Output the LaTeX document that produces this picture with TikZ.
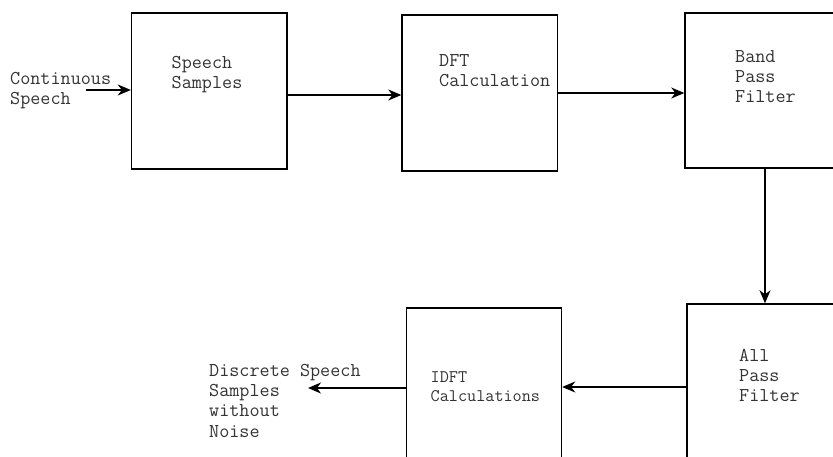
\documentclass[tikz,border=0pt]{standalone}
\usepackage{fontspec}
\usetikzlibrary{arrows.meta,fit}
\tikzset{
  blk/.style={draw=black, line width=1.4pt, inner sep=0pt},
  lbl/.style={inner sep=0pt, anchor=base west, align=left, text=black!80,
              font=\ttfamily\fontsize{19.6}{20.3}\selectfont},
  lblsm/.style={lbl, font=\ttfamily\fontsize{17.7}{19}\selectfont},
  arr/.style={line width=1.4pt, -{Stealth[length=13pt,width=11pt,inset=4pt]}}
}
\begin{document}
\begin{tikzpicture}[x=1pt,y=-1pt]
\useasboundingbox (0,0) rectangle (833,457);
\clip (0,0) rectangle (833,457);
% boxes
\node[blk, fit={(131.5,13) (287,169)}] (b1) {};
\node[blk, fit={(402,15) (557.5,171)}] (b2) {};
\node[blk, fit={(685,13) (850,168)}] (b3) {};
\node[blk, fit={(687,304) (850,480)}] (b4) {};
\node[blk, fit={(406.5,308) (561.5,480)}] (b5) {};
% labels (anchor = baseline of last line)
\node[lbl] (tin) at (10,105) {Continuous\\Speech};
\node[lbl] (t1) at (171.5,89) {Speech\\Samples};
\node[lbl] (t2) at (439,87) {DFT\\Calculation};
\node[lbl] (t3) at (735,103) {Band\\Pass\\Filter};
\node[lbl] (t4) at (739,401.7) {All\\Pass\\Filter};
\node[lblsm] (t5) at (430.5,401.7) {IDFT\\Calculations};
\node[lbl] (tout) at (209,437) {Discrete Speech\\Samples\\without\\Noise};
% connectors
\coordinate (cin) at (86,90);
\coordinate (cout) at (308,388);
\draw[arr] (cin) -- (b1.west |- cin);
\draw[arr] (b1.east |- 0,95) -- (b2.west |- 0,95);
\draw[arr] (b2.east |- 0,93) -- (b3.west |- 0,93);
\draw[arr] (b3.south -| 765,0) -- (b4.north -| 765,0);
\draw[arr] (b4.west |- 0,387) -- (b5.east |- 0,387);
\draw[arr] (b5.west |- cout) -- (cout);
\end{tikzpicture}
\end{document}
